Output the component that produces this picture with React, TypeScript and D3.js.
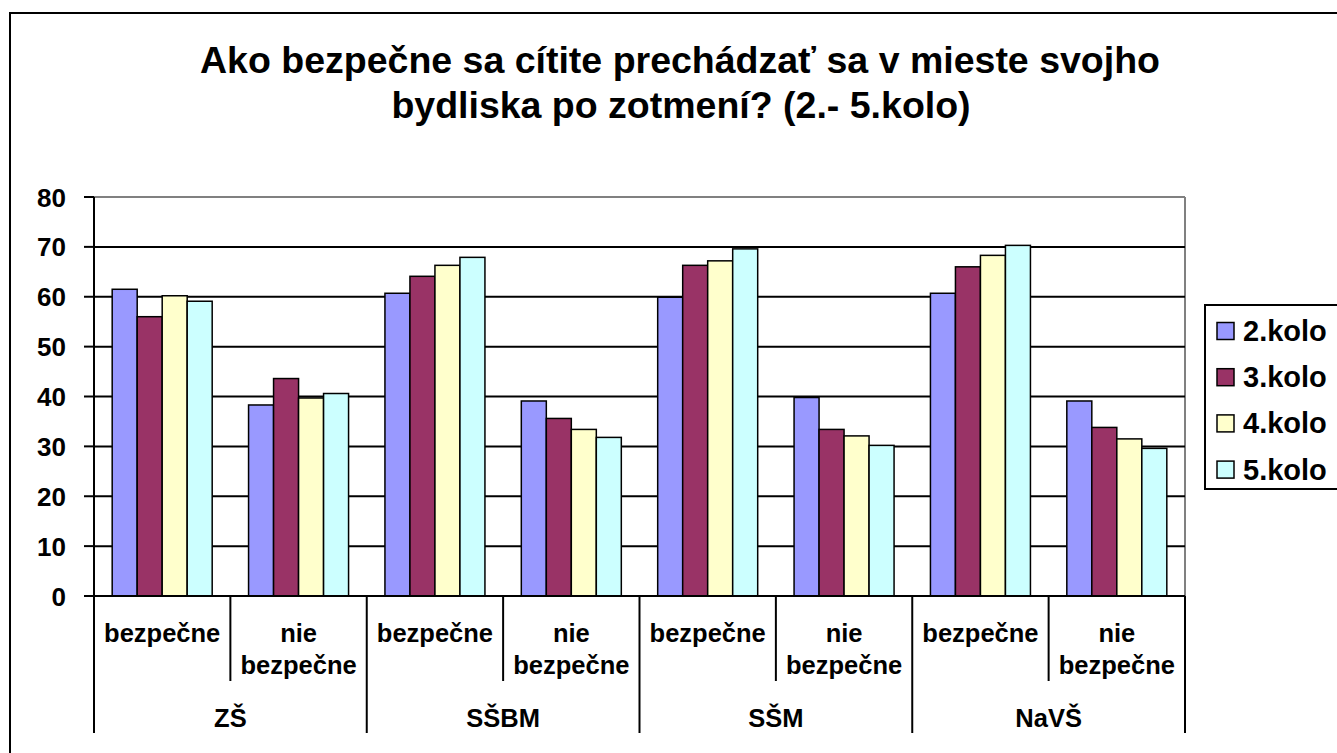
import React, { useRef, useEffect } from 'react';
import * as d3 from 'd3';

const groups = ['ZŠ', 'SŠBM', 'SŠM', 'NaVŠ'];
const answers = [['bezpečne'], ['nie', 'bezpečne']];
const series = ['2.kolo', '3.kolo', '4.kolo', '5.kolo'];
const colors = ['#9999FF', '#993366', '#FFFFCC', '#CCFFFF'];
const yTicks = [0, 10, 20, 30, 40, 50, 60, 70, 80];

// one row per round, 8 values: group x answer
const kolo2 = [61.5, 38.3, 60.7, 39.1, 59.9, 39.8, 60.7, 39.1];
const kolo3 = [56.0, 43.6, 64.1, 35.6, 66.3, 33.4, 66.0, 33.8];
const kolo4 = [60.2, 39.7, 66.3, 33.4, 67.2, 32.1, 68.3, 31.5];
const kolo5 = [59.1, 40.6, 67.9, 31.8, 69.6, 30.2, 70.3, 29.6];
const values = [kolo2, kolo3, kolo4, kolo5];

export default function App() {
  const ref = useRef<SVGSVGElement>(null);

  useEffect(() => {
    const svg = d3.select(ref.current);
    svg.selectAll('*').remove();

    const left = 94, right = 1185, top = 197, bottom = 596;
    const font = 'Arial, "Liberation Sans", sans-serif';

    // outer frame
    svg.append('rect')
      .attr('x', 10).attr('y', 13)
      .attr('width', 1400).attr('height', 800)
      .attr('fill', 'white').attr('stroke', '#000').attr('stroke-width', 2);

    const title = svg.append('text')
      .attr('text-anchor', 'middle')
      .attr('font-family', font).attr('font-weight', 'bold')
      .attr('font-size', 37.5).attr('fill', '#000');
    title.append('tspan').attr('x', 680).attr('y', 73)
      .text('Ako bezpečne sa cítite prechádzať sa v mieste svojho');
    title.append('tspan').attr('x', 681).attr('y', 118)
      .text('bydliska po zotmení? (2.- 5.kolo)');

    const cats = d3.range(8);
    const x = d3.scaleBand<number>().domain(cats).range([left, right]);
    const barW = 25;
    const y = d3.scaleLinear().domain([0, 80]).range([bottom, top]);

    // plot border (grey top / right)
    svg.append('line').attr('x1', left).attr('x2', right).attr('y1', top).attr('y2', top)
      .attr('stroke', '#808080').attr('stroke-width', 2);
    svg.append('line').attr('x1', right).attr('x2', right).attr('y1', top).attr('y2', bottom)
      .attr('stroke', '#808080').attr('stroke-width', 2);

    // gridlines
    svg.selectAll('.grid')
      .data(yTicks.filter(t => t > 0 && t < 80))
      .enter()
      .append('line')
      .attr('x1', left).attr('x2', right)
      .attr('y1', d => y(d)).attr('y2', d => y(d))
      .attr('stroke', '#000').attr('stroke-width', 2);

    // bars
    cats.forEach(c => {
      const x0 = x(c)! + (x.bandwidth() - barW * series.length) / 2;
      series.forEach((s, i) => {
        const v = values[i][c];
        svg.append('rect')
          .attr('x', x0 + i * barW)
          .attr('y', y(v))
          .attr('width', barW)
          .attr('height', y(0) - y(v))
          .attr('fill', colors[i])
          .attr('stroke', '#000')
          .attr('stroke-width', 1.5);
      });
    });

    // y axis
    svg.append('line').attr('x1', left).attr('x2', left).attr('y1', top).attr('y2', bottom)
      .attr('stroke', '#000').attr('stroke-width', 2);
    svg.selectAll('.ytick')
      .data(yTicks)
      .enter()
      .append('line')
      .attr('x1', left - 10).attr('x2', left)
      .attr('y1', d => y(d)).attr('y2', d => y(d))
      .attr('stroke', '#000').attr('stroke-width', 2);
    svg.selectAll('.ylabel')
      .data(yTicks)
      .enter()
      .append('text')
      .attr('x', 66).attr('y', d => y(d) + 9.5)
      .attr('text-anchor', 'end')
      .attr('font-family', font).attr('font-weight', 'bold').attr('font-size', 26)
      .text(d => d);

    // x axis
    svg.append('line').attr('x1', left).attr('x2', right).attr('y1', bottom).attr('y2', bottom)
      .attr('stroke', '#000').attr('stroke-width', 2);
    d3.range(9).forEach(i => {
      const xx = i < 8 ? x(i)! : right;
      const long = i % 2 === 0;
      svg.append('line').attr('x1', xx).attr('x2', xx)
        .attr('y1', bottom).attr('y2', long ? 733 : 681)
        .attr('stroke', '#000').attr('stroke-width', 2);
    });

    cats.forEach(c => {
      const lines = answers[c % 2];
      const cx = x(c)! + x.bandwidth() / 2;
      lines.forEach((l, j) => {
        svg.append('text')
          .attr('x', cx).attr('y', 642 + j * 32)
          .attr('text-anchor', 'middle')
          .attr('font-family', font).attr('font-weight', 'bold').attr('font-size', 25.5)
          .text(l);
      });
    });
    groups.forEach((g, k) => {
      const cx = (x(k * 2)! + (k * 2 + 2 < 8 ? x(k * 2 + 2)! : right)) / 2;
      svg.append('text')
        .attr('x', cx).attr('y', 727)
        .attr('text-anchor', 'middle')
        .attr('font-family', font).attr('font-weight', 'bold').attr('font-size', 25.5)
        .text(g);
    });

    // legend
    const lg = svg.append('g');
    lg.append('rect')
      .attr('x', 1205).attr('y', 305).attr('width', 200).attr('height', 184)
      .attr('fill', 'white').attr('stroke', '#000').attr('stroke-width', 2);
    series.forEach((s, i) => {
      const cy = 331 + i * 46.2;
      lg.append('rect')
        .attr('x', 1217).attr('y', cy - 8.5).attr('width', 17).attr('height', 17)
        .attr('fill', colors[i]).attr('stroke', '#000').attr('stroke-width', 1.5);
      lg.append('text')
        .attr('x', 1243).attr('y', cy + 10)
        .attr('font-family', font).attr('font-weight', 'bold').attr('font-size', 29)
        .text(s);
    });
  }, []);

  return (
    <svg ref={ref} width={1337} height={753}
      style={{ position: 'absolute', left: 0, top: 0, background: 'white' }} />
  );
}
